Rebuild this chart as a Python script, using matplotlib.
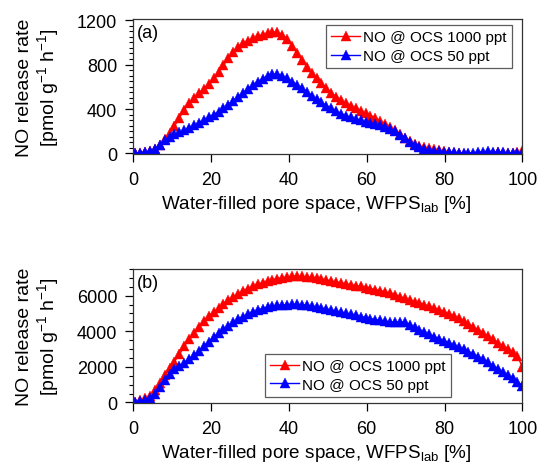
import numpy as np
import matplotlib

matplotlib.use("Agg")
import matplotlib.pyplot as plt
from matplotlib.ticker import MultipleLocator

plt.rcParams["font.family"] = ["Liberation Sans", "DejaVu Sans"]
plt.rcParams["mathtext.fontset"] = "custom"
plt.rcParams["mathtext.rm"] = "Liberation Sans"
plt.rcParams["mathtext.it"] = "Liberation Sans:italic"

# water-filled pore space grid (%), 80 readings per series
wfps = np.linspace(0.5, 100, 80)

# panel (a): NO release rate, pmol g-1 h-1
a_ocs1000 = [
    5, 8, 12, 18, 40, 80, 130, 180, 245, 320,
    395, 450, 495, 540, 580, 625, 680, 735, 795, 855,
    910, 955, 990, 1015, 1035, 1055, 1070, 1085, 1095, 1090,
    1070, 1030, 970, 905, 840, 780, 725, 675, 630, 585,
    545, 510, 478, 452, 428, 405, 385, 362, 340, 318,
    293, 265, 238, 208, 175, 142, 112, 88, 70, 55,
    45, 37, 30, 22, 15, 8, 2, -5, -8, -10,
    -8, -5, 2, 8, 10, 6, 3, 5, 10, 20,
]
a_ocs50 = [
    5, 8, 12, 18, 38, 75, 120, 150, 172, 190,
    210, 230, 253, 275, 300, 325, 350, 375, 405, 440,
    475, 510, 545, 580, 615, 645, 672, 695, 712, 715,
    700, 675, 645, 615, 585, 553, 520, 490, 460, 430,
    405, 380, 358, 340, 325, 310, 298, 287, 276, 265,
    252, 238, 222, 200, 170, 138, 105, 78, 55, 38,
    28, 22, 18, 14, 12, 10, 8, 6, 5, 8,
    12, 15, 18, 15, 12, 10, 8, 6, 5, 5,
]

# panel (b)
b_ocs1000 = [
    0, 120, 230, 380, 700, 1100, 1550, 1950, 2300, 2700,
    3150, 3550, 3920, 4250, 4560, 4840, 5080, 5310, 5540, 5750,
    5930, 6100, 6260, 6400, 6530, 6640, 6740, 6830, 6900, 6960,
    7010, 7050, 7080, 7090, 7080, 7060, 7030, 6990, 6940, 6880,
    6820, 6770, 6720, 6670, 6620, 6570, 6520, 6460, 6400, 6340,
    6280, 6220, 6150, 6060, 5950, 5850, 5760, 5670, 5590, 5500,
    5400, 5310, 5210, 5100, 4980, 4850, 4720, 4570, 4410, 4240,
    4070, 3900, 3720, 3540, 3350, 3180, 3000, 2820, 2600, 2000,
]
b_ocs50 = [
    0, 100, 160, 250, 500, 850, 1250, 1600, 1870, 2050,
    2220, 2420, 2650, 2900, 3170, 3420, 3670, 3900, 4120, 4320,
    4500, 4670, 4830, 4970, 5090, 5190, 5280, 5350, 5410, 5450,
    5480, 5500, 5510, 5510, 5490, 5460, 5420, 5370, 5310, 5250,
    5190, 5130, 5070, 5010, 4950, 4890, 4830, 4770, 4710, 4660,
    4610, 4560, 4520, 4510, 4540, 4500, 4380, 4230, 4080, 3950,
    3820, 3700, 3580, 3460, 3350, 3230, 3110, 2990, 2860, 2720,
    2570, 2420, 2250, 2070, 1890, 1710, 1530, 1350, 1170, 930,
]

labels = ["NO @ OCS 1000 ppt", "NO @ OCS 50 ppt"]
colors = ["#ff0000", "#0000ff"]

fig = plt.figure(figsize=(5.4, 4.64), dpi=100)
ax_a = fig.add_axes([0.2469, 0.6659, 0.7204, 0.2909])
ax_b = fig.add_axes([0.2469, 0.1293, 0.7204, 0.2888])


def draw_series(ax, series):
    for ys, lab, c in zip(series, labels, colors):
        ax.plot(
            wfps, ys, "-^", color=c, lw=1.0, ms=6.5,
            mfc=c, mec=c, mew=0.3, label=lab,
        )


def style_axes(ax, ymax, major, minor, tag, xlab_y):
    ax.set_xlim(0, 100)
    ax.set_ylim(-0.004 * ymax, ymax)
    ax.xaxis.set_major_locator(MultipleLocator(20))
    ax.yaxis.set_major_locator(MultipleLocator(major))
    ax.yaxis.set_minor_locator(MultipleLocator(minor))
    ax.tick_params(axis="both", which="major", direction="out", length=5.5,
                   width=0.9, labelsize=13, top=False, right=False)
    ax.tick_params(axis="x", pad=7)
    ax.tick_params(axis="y", pad=6)
    ax.tick_params(axis="y", which="minor", direction="out", length=2.8, width=0.8)
    for sp in ax.spines.values():
        sp.set_linewidth(0.9)
        sp.set_color("#333333")
    ax.set_xlabel(r"Water-filled pore space, WFPS$_{\mathrm{lab}}$ [%]", fontsize=13.6)
    ax.xaxis.set_label_coords(0.47, xlab_y)
    ax.set_ylabel("NO release rate\n" + r"[pmol g$^{-1}$ h$^{-1}$]", fontsize=14,
                  linespacing=1.15)
    ax.yaxis.set_label_coords(-0.185, 0.5)
    ax.text(0.008, 0.965, tag, transform=ax.transAxes, ha="left", va="top", fontsize=13)


draw_series(ax_a, [a_ocs1000, a_ocs50])
draw_series(ax_b, [b_ocs1000, b_ocs50])
style_axes(ax_a, 1210, 400, 50, "(a)", -0.29)
style_axes(ax_b, 7500, 2000, 500, "(b)", -0.292)

leg_kw = dict(fontsize=11, frameon=True, fancybox=False, borderaxespad=0,
              handlelength=1.9, handletextpad=0.2, borderpad=0.35,
              labelspacing=0.3, markerscale=1.0)
leg_a = ax_a.legend(loc="upper right", bbox_to_anchor=(0.9735, 0.9556), **leg_kw)
leg_b = ax_b.legend(loc="lower left", bbox_to_anchor=(0.3386, 0.0448), **leg_kw)
for leg in (leg_a, leg_b):
    leg.get_frame().set_edgecolor("#333333")
    leg.get_frame().set_linewidth(0.9)

fig.savefig("out.png", dpi=100)
